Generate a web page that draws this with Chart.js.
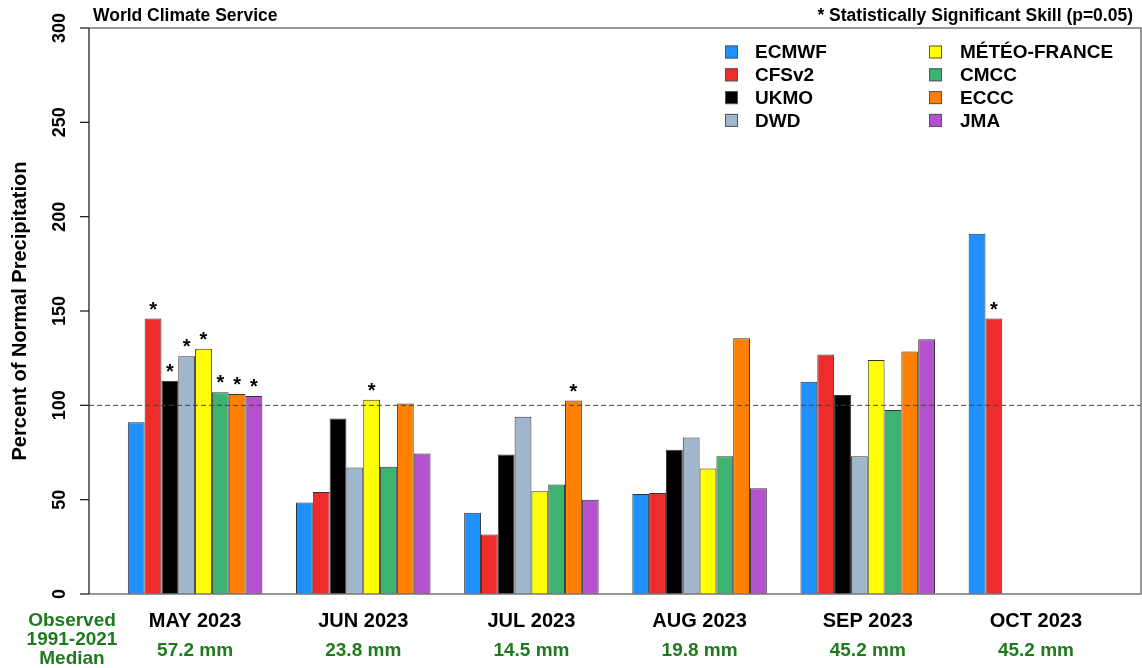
<!DOCTYPE html>
<html><head><meta charset="utf-8">
<script src="https://cdn.jsdelivr.net/npm/chart.js@4.4.0/dist/chart.umd.min.js"></script>
<style>html,body{margin:0;padding:0;background:#fff;}#wrap{width:1142px;height:668px;position:relative;}</style>
</head><body><div id="wrap"><canvas id="c" width="1142" height="668"></canvas></div>
<script>
const months = ['MAY 2023','JUN 2023','JUL 2023','AUG 2023','SEP 2023','OCT 2023'];
const medians = ['57.2 mm','23.8 mm','14.5 mm','19.8 mm','45.2 mm','45.2 mm'];
const yTickLabels = ['0','50','100','150','200','250','300'];
const models = ['ECMWF','CFSv2','UKMO','DWD','MÉTÉO-FRANCE','CMCC','ECCC','JMA'];
const modelColors = ['#1E90FF','#EE2C2C','#000000','#9FB6CD','#FFFF00','#3CB371','#FF7F00','#B452CD'];
const ecmwf       = [91, 48.5, 43, 53, 112.5, 191];
const cfsv2       = [146, 54, 31.5, 53.5, 127, 146];
const ukmo        = [113, 93, 74, 76.5, 105.5, null];
const dwd         = [126, 67, 94, 83, 73, null];
const meteoFrance = [130, 103, 54.5, 66.5, 124, null];
const cmcc        = [107, 67.5, 58, 73, 97.5, null];
const eccc        = [106, 101, 102.5, 135.5, 128.5, null];
const jma         = [105, 74.5, 50, 56, 135, null];
const sigEcmwf = [0,0,0,0,0,0];
const sigCfsv2 = [1,0,0,0,0,1];
const sigUkmo  = [1,0,0,0,0,0];
const sigDwd   = [1,0,0,0,0,0];
const sigMeteo = [1,1,0,0,0,0];
const sigCmcc  = [1,0,0,0,0,0];
const sigEccc  = [1,0,1,0,0,0];
const sigJma   = [1,0,0,0,0,0];
const referenceLine = 100;

const seriesValues = [ecmwf, cfsv2, ukmo, dwd, meteoFrance, cmcc, eccc, jma];
const seriesSig = [sigEcmwf, sigCfsv2, sigUkmo, sigDwd, sigMeteo, sigCmcc, sigEccc, sigJma];
const FONT = "'Liberation Sans', Arial, Helvetica, sans-serif";
const GREEN = '#1f7a1f';

const deco = {
  id: 'deco',
  afterDatasetsDraw(chart) {
    const ctx = chart.ctx, ys = chart.scales.y, a = chart.chartArea;
    const L = a.left - 22, R = a.right + 21;
    ctx.save();
    // dashed reference
    const py = ys.getPixelForValue(referenceLine);
    ctx.strokeStyle = '#444'; ctx.lineWidth = 1; ctx.setLineDash([5,3]);
    ctx.beginPath(); ctx.moveTo(L, py); ctx.lineTo(R, py); ctx.stroke();
    ctx.setLineDash([]);
    // frame
    ctx.strokeStyle = '#777'; ctx.lineWidth = 1.5;
    ctx.beginPath();
    ctx.moveTo(L, a.top); ctx.lineTo(R, a.top); ctx.lineTo(R, a.bottom); ctx.lineTo(L, a.bottom);
    ctx.stroke();
    // y axis
    ctx.strokeStyle = '#222'; ctx.lineWidth = 1.3;
    ctx.beginPath(); ctx.moveTo(L, ys.getPixelForValue(0)); ctx.lineTo(L, ys.getPixelForValue(300)); ctx.stroke();
    ctx.fillStyle = '#000';
    ctx.font = 'bold 18px ' + FONT;
    ctx.textAlign = 'center'; ctx.textBaseline = 'alphabetic';
    yTickLabels.forEach(t => {
      const p = ys.getPixelForValue(Number(t));
      ctx.beginPath(); ctx.moveTo(L - 9, p); ctx.lineTo(L, p); ctx.stroke();
      ctx.save(); ctx.translate(L - 24, p); ctx.rotate(-Math.PI/2); ctx.fillText(t, 0, 0); ctx.restore();
    });
    // y title
    ctx.font = 'bold 20px ' + FONT;
    ctx.save(); ctx.translate(26, (a.top + a.bottom)/2); ctx.rotate(-Math.PI/2);
    ctx.fillText('Percent of Normal Precipitation', 0, 0); ctx.restore();
    // stars
    ctx.font = 'bold 20px ' + FONT; ctx.textAlign = 'center';
    chart.data.datasets.forEach((ds, i) => {
      const meta = chart.getDatasetMeta(i);
      meta.data.forEach((el, j) => {
        if (seriesSig[i][j] && ds.data[j] != null) ctx.fillText('*', el.x, el.y - 3);
      });
    });
    // header texts
    ctx.font = 'bold 17.5px ' + FONT; ctx.textAlign = 'left';
    ctx.fillText('World Climate Service', 93, 21);
    ctx.textAlign = 'right';
    ctx.fillText('* Statistically Significant Skill (p=0.05)', 1133, 21);
    // legend
    ctx.font = 'bold 19px ' + FONT; ctx.textAlign = 'left'; ctx.textBaseline = 'middle';
    chart.data.datasets.forEach((ds, i) => {
      const col = Math.floor(i / 4), row = i % 4;
      const sx = col ? 929 : 725, tx = col ? 960 : 755, cy = 52 + row * 22.8;
      ctx.fillStyle = ds.backgroundColor; ctx.fillRect(sx, cy - 6.5, 13, 13);
      ctx.strokeStyle = '#555'; ctx.lineWidth = 1; ctx.strokeRect(sx + 0.5, cy - 6, 12, 12);
      ctx.fillStyle = '#000'; ctx.fillText(ds.label, tx, cy + 1);
    });
    // observed note
    ctx.fillStyle = GREEN; ctx.textAlign = 'center'; ctx.font = 'bold 19px ' + FONT;
    ['Observed','1991-2021','Median'].forEach((s, k) => ctx.fillText(s, 72, 621 + k * 19));
    ctx.restore();
  }
};

new Chart(document.getElementById('c'), {
  type: 'bar',
  data: {
    labels: months,
    datasets: models.map((m, i) => ({
      label: m, data: seriesValues[i], backgroundColor: modelColors[i],
      borderColor: '#333', borderWidth: 1, xAxisID: 'x', yAxisID: 'y'
    }))
  },
  options: {
    responsive: false, animation: false, devicePixelRatio: 1,
    layout: { padding: { left: 111, right: 22, top: 28, bottom: 6 } },
    categoryPercentage: 0.8, barPercentage: 1.0,
    plugins: { legend: { display: false }, title: { display: false }, tooltip: { enabled: false } },
    scales: {
      x: {
        type: 'category', position: 'bottom', offset: true,
        grid: { display: false, drawTicks: false }, border: { display: false },
        ticks: { color: '#000', font: { family: FONT, weight: 'bold', size: 20 }, padding: 15, maxRotation: 0, autoSkip: false },
        afterFit: s => { s.height = 39; }
      },
      x2: {
        type: 'category', position: 'bottom', offset: true, labels: medians,
        grid: { display: false, drawTicks: false }, border: { display: false },
        ticks: { color: GREEN, font: { family: FONT, weight: 'bold', size: 19 }, padding: 6, maxRotation: 0, autoSkip: false },
        afterFit: s => { s.height = 29; }
      },
      y: { display: false, min: 0, max: 300 }
    }
  },
  plugins: [deco]
});
</script></body></html>
